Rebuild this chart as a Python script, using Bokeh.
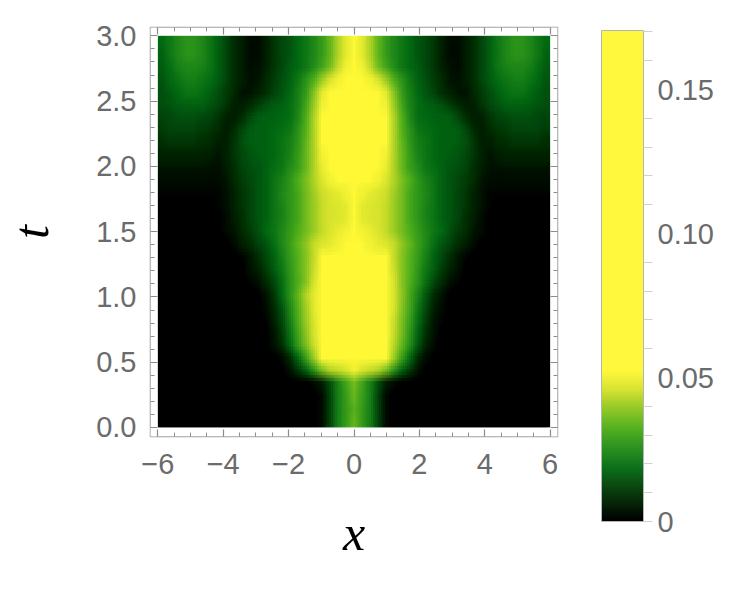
import numpy as np
from bokeh.plotting import figure
from bokeh.models import LinearColorMapper, ColorBar, FixedTicker, LinearAxis, Range1d
from bokeh.embed import file_html
from bokeh.resources import INLINE

# ---- data (values in units of 1e-3), rows = t from 0 to 3, columns = x from -6 to 6 ----
x_extent = [-6.0, 6.0]
t_extent = [0.0, 3.0]

density_milli = [
    [0]*20 + [3,12,22,28,34,28,22,12,3] + [0]*20,
    [0]*20 + [3,12,22,28,33,28,22,12,3] + [0]*20,
    [0]*20 + [3,12,22,29,35,29,22,12,3] + [0]*20,
    [0]*18 + [1,3,6,14,23,30,36,30,23,14,6,3,1] + [0]*18,
    [0]*15 + [1,4,10,17,26,36,42,44,46,50,46,44,42,36,26,17,10,4,1] + [0]*15,
    [0]*14 + [1,3,8,18,29,40,52,60,65,70,90,70,65,60,52,40,29,18,8,3,1] + [0]*14,
    [0]*13 + [1,4,9,18,28,37,45,60,80,85,90,120,90,85,80,60,43,34,25,15,7,3,1] + [0]*13,
    [0]*13 + [1,5,11,20,30,39,46,62,85,90,95,130,95,90,85,62,44,36,27,17,9,4,1] + [0]*13,
    [0]*13 + [2,7,13,22,32,40,47,64,88,95,100,140,100,95,88,64,45,37,29,19,11,5,2] + [0]*13,
    [0]*12 + [1,3,8,15,24,33,41,48,65,90,95,100,145,100,95,90,65,46,38,30,21,13,6,3,1] + [0]*12,
    [0]*12 + [1,5,10,18,26,34,42,48,65,90,95,100,150,100,95,90,65,46,39,31,23,15,8,4,1] + [0]*12,
    [0]*11 + [2,4,8,13,19,26,32,38,46,64,88,95,100,150,100,95,88,64,46,38,32,26,19,13,8,4,2] + [0]*11,
    [0]*10 + [1,4,7,11,16,21,27,33,38,45,62,85,90,95,150,95,90,85,62,45,38,33,27,21,16,11,7,4,1] + [0]*10,
    [0]*9 + [1,2,5,9,13,17,22,28,33,38,44,58,80,85,90,150,90,85,80,58,44,38,33,28,22,17,13,9,5,2,1] + [0]*9,
    [0]*8 + [1,3,6,9,12,15,19,24,29,34,39,44,47,48,50,52,140,52,50,48,47,44,39,34,29,24,19,15,12,9,6,3,1] + [0]*8,
    [0]*7 + [1,3,5,8,11,14,18,21,24,28,32,36,40,44,47,49,50,120,50,49,47,44,40,36,32,28,24,21,18,14,11,8,5,3,1] + [0]*7,
    [0]*7 + [1,3,6,9,12,15,17,20,23,27,31,36,40,44,46,47,48,110,48,47,46,44,40,36,31,27,23,20,17,15,12,9,6,3,1] + [0]*7,
    [1]*7 + [2,4,7,10,12,15,17,20,23,27,31,36,40,44,46,47,48,110,48,47,46,44,40,36,31,27,23,20,17,15,12,10,7,4,2] + [1]*7,
    [2]*8 + [4,7,10,12,15,17,20,24,27,31,36,41,45,47,48,50,110,50,48,47,45,41,36,31,27,24,20,17,15,12,10,7,4] + [2]*8,
    [3]*8 + [5,8,11,13,15,17,20,23,27,32,37,42,47,50,52,54,120,54,52,50,47,42,37,32,27,23,20,17,15,13,11,8,5] + [3]*8,
    [5,5,5,5,5,5,4,4,6,9,12,14,15,17,19,21,25,29,35,42,49,55,60,70, 140,
     70,60,55,49,42,35,29,25,21,19,17,15,14,12,9,6,4,4,5,5,5,5,5,5],
    [7,7,7,7,7,7,6,5,7,10,13,15,16,17,18,20,23,28,35,42,50,60,70,80, 150,
     80,70,60,50,42,35,28,23,20,18,17,16,15,13,10,7,5,6,7,7,7,7,7,7],
    [9,10,10,10,10,9,8,6,6,10,14,16,17,17,18,20,22,27,34,42,52,62,75,85, 150,
     85,75,62,52,42,34,27,22,20,18,17,17,16,14,10,6,6,8,9,10,10,10,10,9],
    [11,12,12,12,12,11,10,8,6,8,13,16,17,17,18,19,21,26,33,42,52,62,75,85, 150,
     85,75,62,52,42,33,26,21,19,18,17,17,16,13,8,6,8,10,11,12,12,12,12,11],
    [12,13,14,14,14,13,12,10,7,6,9,13,16,17,17,18,19,24,32,42,52,60,70,80, 150,
     80,70,60,52,42,32,24,19,18,17,17,16,13,9,6,7,10,12,13,14,14,14,13,12],
    [14,15,16,17,17,17,15,13,10,7,6,8,11,14,16,17,19,23,30,40,50,56,62,75, 140,
     75,62,56,50,40,30,23,19,17,16,14,11,8,6,7,10,13,15,17,17,17,16,15,14],
    [14,16,18,20,20,19,17,14,11,8,5,5,7,9,12,15,18,22,28,38,48,52,55,60, 130,
     60,55,52,48,38,28,22,18,15,12,9,7,5,5,8,11,14,17,19,20,20,18,16,14],
    [15,18,20,22,22,21,19,16,13,9,6,4,5,8,11,14,17,21,26,32,40,46,50,52, 120,
     52,50,46,40,32,26,21,17,14,11,8,5,4,6,9,13,16,19,21,22,22,20,18,15],
    [16,19,22,24,24,23,21,17,13,9,6,3,4,7,10,13,16,18,21,25,30,36,44,50, 110,
     50,44,36,30,25,21,18,16,13,10,7,4,3,6,9,13,17,21,23,24,24,22,19,16],
    [17,21,24,26,26,24,21,17,13,9,6,3,3,6,10,13,15,18,21,24,28,34,42,48, 110,
     48,42,34,28,24,21,18,15,13,10,6,3,3,6,9,13,17,21,24,26,26,24,21,17],
    [18,21,24,26,26,24,21,17,13,9,6,3,3,6,10,13,15,18,21,24,28,34,42,48, 110,
     48,42,34,28,24,21,18,15,13,10,6,3,3,6,9,13,17,21,24,26,26,24,21,18],
]
for r in density_milli:
    assert len(r) == 49, len(r)
assert len(density_milli) == 31

x_ticks = [-6, -4, -2, 0, 2, 4, 6]
x_tick_labels = ["\u22126", "\u22124", "\u22122", "0", "2", "4", "6"]
t_ticks = [0.0, 0.5, 1.0, 1.5, 2.0, 2.5, 3.0]
t_tick_labels = ["0.0", "0.5", "1.0", "1.5", "2.0", "2.5", "3.0"]
cbar_low, cbar_high = 0.0, 0.1705
cbar_ticks = [0.0, 0.05, 0.10, 0.15]
cbar_tick_labels = ["0", "0.05", "0.10", "0.15"]

# ---- colour scale (style) ----
anchor_v = [0.000, 0.004, 0.010, 0.014, 0.018, 0.025, 0.032, 0.039, 0.045, 0.052, cbar_high]
anchor_c = ["#000000", "#031806", "#0a3c0c", "#0b5414", "#0a6e1a", "#2a9020",
            "#52b020", "#92c828", "#d0e030", "#fff83c", "#fff83c"]
rgb = np.array([[int(c[i:i + 2], 16) for i in (1, 3, 5)] for c in anchor_c], dtype=float)
pv = np.linspace(cbar_low, cbar_high, 256)
palette = ["#%02x%02x%02x" % tuple(int(round(np.interp(v, anchor_v, rgb[:, k]))) for k in range(3)) for v in pv]
mapper = LinearColorMapper(palette=palette, low=cbar_low, high=cbar_high)

Z = np.array(density_milli, dtype=float) / 1000.0
n_rows, n_cols = Z.shape

X_RANGE = (-6.224, 6.224)
T_RANGE = (-0.069, 3.064)

p = figure(frame_width=407, frame_height=409,
           x_range=Range1d(*X_RANGE), y_range=Range1d(*T_RANGE),
           output_backend="svg", toolbar_location=None,
           min_border_left=147, min_border_top=27, min_border_right=170, min_border_bottom=140)
p.background_fill_color = "white"
p.border_fill_color = "white"
p.grid.visible = False
p.outline_line_color = "#a0a0a0"
p.outline_line_width = 1.5

# smooth rendering: average of sub-cell shifted copies of the same image (box filter)
dw = x_extent[1] - x_extent[0]
dh = t_extent[1] - t_extent[0]
cw, ch = dw / n_cols, dh / n_rows
shifts = [(-0.375, -0.375), (0.125, 0.125), (-0.125, 0.375), (0.375, -0.125),
          (-0.375, 0.125), (0.125, -0.375), (-0.125, -0.125), (0.375, 0.375),
          (-0.375, -0.125), (0.125, 0.375), (-0.125, 0.125), (0.375, -0.375),
          (-0.375, 0.375), (0.125, -0.125), (-0.125, -0.375), (0.375, 0.125)]
p.image(image=[Z], x=x_extent[0], y=t_extent[0], dw=dw, dh=dh, color_mapper=mapper)
for k, (fx, fy) in enumerate(shifts):
    p.image(image=[Z], x=x_extent[0] + fx * cw, y=t_extent[0] + fy * ch, dw=dw, dh=dh,
            color_mapper=mapper, global_alpha=1.0 / (k + 2))

# white padding between the density area and the frame
p.quad(left=[X_RANGE[0], x_extent[1], X_RANGE[0], X_RANGE[0]],
       right=[x_extent[0], X_RANGE[1], X_RANGE[1], X_RANGE[1]],
       bottom=[T_RANGE[0], T_RANGE[0], T_RANGE[0], t_extent[1]],
       top=[T_RANGE[1], T_RANGE[1], t_extent[0], T_RANGE[1]],
       fill_color="white", line_color=None)

x_minor = list(np.arange(-6.0, 6.01, 0.5))
t_minor = list(np.round(np.arange(0.0, 3.01, 0.1), 2))

LABEL_FONT = "Liberation Sans"
LABEL_SIZE = "29px"
LABEL_COLOR = "#6b6b6b"

def style_axis(ax, ticks, minor, labels):
    ax.ticker = FixedTicker(ticks=ticks, minor_ticks=minor)
    ax.axis_line_color = None
    ax.major_tick_in = 7
    ax.major_tick_out = 0
    ax.minor_tick_in = 4
    ax.minor_tick_out = 0
    ax.major_tick_line_color = "#8c8c8c"
    ax.minor_tick_line_color = "#8c8c8c"
    ax.major_tick_line_width = 1.2
    ax.minor_tick_line_width = 1
    ax.major_label_text_font = LABEL_FONT
    ax.major_label_text_font_size = LABEL_SIZE
    ax.major_label_text_color = LABEL_COLOR
    if labels is None:
        ax.major_label_overrides = {t: "" for t in ticks}
        ax.major_label_standoff = 0
    else:
        ax.major_label_overrides = {t: s for t, s in zip(ticks, labels)}

xa = p.xaxis[0]
ya = p.yaxis[0]
style_axis(xa, x_ticks, x_minor, x_tick_labels)
style_axis(ya, t_ticks, t_minor, t_tick_labels)
xa.major_label_standoff = 17
ya.major_label_standoff = 14
xa.axis_label = "x"
ya.axis_label = "t"
for ax in (xa, ya):
    ax.axis_label_text_font = "Liberation Serif"
    ax.axis_label_text_font_style = "italic"
    ax.axis_label_text_font_size = "50px"
    ax.axis_label_text_color = "black"
xa.axis_label_standoff = 28
ya.axis_label_standoff = 34

top = LinearAxis()
style_axis(top, x_ticks, x_minor, None)
p.add_layout(top, "above")
right = LinearAxis()
style_axis(right, t_ticks, t_minor, None)
p.add_layout(right, "right")

cbar_minor = [round(0.01 * i, 2) for i in range(0, 18) if i not in (5, 10, 15)]
cb = ColorBar(color_mapper=mapper, orientation="vertical", width=42, height=491,
              location=(451, -85), padding=0, margin=0,
              ticker=FixedTicker(ticks=cbar_ticks, minor_ticks=cbar_minor),
              major_label_overrides={t: s for t, s in zip(cbar_ticks, cbar_tick_labels)},
              major_label_text_font=LABEL_FONT, major_label_text_font_size=LABEL_SIZE,
              major_label_text_color=LABEL_COLOR,
              major_tick_line_color=None, major_tick_in=0, major_tick_out=9,
              minor_tick_line_color="#d0d0d0", minor_tick_in=0, minor_tick_out=9,
              label_standoff=5, bar_line_color="#b4b4b4", bar_line_width=1,
              border_line_color=None, background_fill_color=None)
p.add_layout(cb)

open("out.html", "w").write(file_html(p, INLINE))
